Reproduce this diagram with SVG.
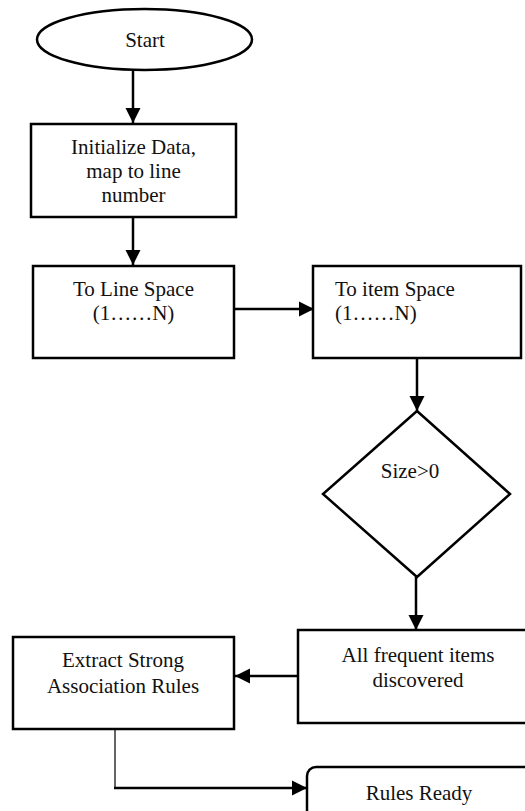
<svg xmlns="http://www.w3.org/2000/svg" width="525" height="811" viewBox="0 0 525 811">
<style>
.shape{fill:#fff;stroke:#000;stroke-width:2.5}
.t{font-family:"Liberation Serif","Times New Roman",serif;font-size:21px;fill:#111}
.c{text-anchor:middle}
.conn{fill:none;stroke:#000;stroke-width:2.5}
</style>
<defs>
<marker id="ah" markerUnits="userSpaceOnUse" markerWidth="16" markerHeight="16" viewBox="0 0 16 16" refX="15" refY="8" orient="auto">
<path d="M0,0.5 L15,8 L0,15.5 Z" fill="#000"/>
</marker>
</defs>
<rect width="525" height="811" fill="#fff"/>
<g id="connectors">
<line class="conn" x1="133" y1="70" x2="133" y2="123" marker-end="url(#ah)"/>
<line class="conn" x1="133" y1="217" x2="133" y2="265" marker-end="url(#ah)"/>
<line class="conn" x1="234" y1="309" x2="314" y2="309" marker-end="url(#ah)"/>
<line class="conn" x1="417" y1="358" x2="417" y2="411" marker-end="url(#ah)"/>
<line class="conn" x1="416" y1="577" x2="416" y2="630" marker-end="url(#ah)"/>
<line class="conn" x1="298" y1="676" x2="235" y2="676" marker-end="url(#ah)"/>
<line x1="115" y1="729" x2="115" y2="788" stroke="#333" stroke-width="1.5"/>
<line class="conn" x1="114" y1="788" x2="307" y2="788" stroke-width="2" marker-end="url(#ah)"/>
</g>
<g id="start">
<ellipse class="shape" cx="144.5" cy="39.5" rx="107.5" ry="30.5"/>
<text class="t c" x="145" y="47">Start</text>
</g>
<g id="init">
<rect class="shape" x="31" y="124" width="205" height="93"/>
<text class="t c" x="133.5" y="154">Initialize Data,</text>
<text class="t c" x="133.5" y="178">map to line</text>
<text class="t c" x="133.5" y="202">number</text>
</g>
<g id="linespace">
<rect class="shape" x="33" y="266" width="201" height="92"/>
<text class="t c" x="133.5" y="296">To Line Space</text>
<text class="t c" x="133.5" y="320">(1……N)</text>
</g>
<g id="itemspace">
<rect class="shape" x="313" y="266" width="208" height="92"/>
<text class="t" x="335" y="296">To item Space</text>
<text class="t" x="335" y="320">(1……N)</text>
</g>
<g id="decision">
<polygon class="shape" points="417,411 510,494 417,577 323,494"/>
<text class="t c" x="410" y="478">Size&gt;0</text>
</g>
<g id="frequent">
<rect class="shape" x="298" y="630" width="240" height="93"/>
<text class="t c" x="418" y="662">All frequent items</text>
<text class="t c" x="418" y="687">discovered</text>
</g>
<g id="extract">
<rect class="shape" x="13" y="637" width="221" height="92"/>
<text class="t c" x="123" y="667">Extract Strong</text>
<text class="t c" x="123" y="693">Association Rules</text>
</g>
<g id="rulesready">
<rect class="shape" x="307" y="767" width="240" height="70" rx="9"/>
<text class="t c" x="419" y="800">Rules Ready</text>
</g>
</svg>
